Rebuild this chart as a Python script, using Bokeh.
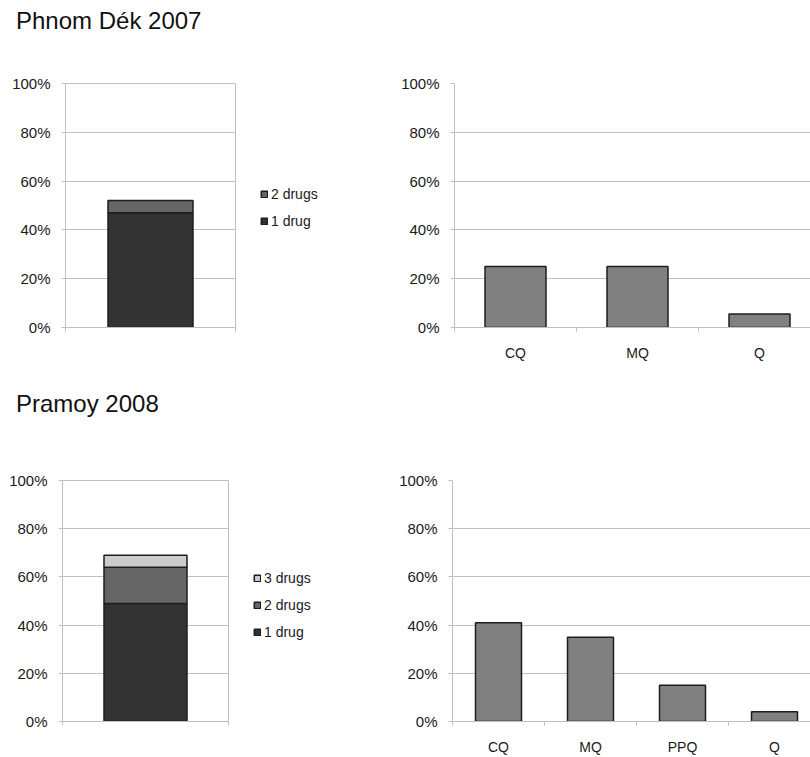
from bokeh.plotting import figure
from bokeh.models import (Range1d, FixedTicker, PrintfTickFormatter, Legend,
                          LegendItem, ColumnDataSource, Div)
from bokeh.layouts import column, row
from bokeh.embed import file_html
from bokeh.resources import INLINE

# ---------------- data ----------------
site1 = "Phnom Dék 2007"
combo_labels1 = ["1 drug", "2 drugs"]
combo_values1 = [47, 5]
drugs1 = ["CQ", "MQ", "Q"]
drug_values1 = [25, 25, 5.5]

site2 = "Pramoy 2008"
combo_labels2 = ["1 drug", "2 drugs", "3 drugs"]
combo_values2 = [49, 15, 5]
drugs2 = ["CQ", "MQ", "PPQ", "Q"]
drug_values2 = [41, 35, 15, 4]

y_ticks = [0, 20, 40, 60, 80, 100]

# ---------------- style ----------------
FONT = "Liberation Sans"
TEXT = "#1a1a1a"
GRID = "#c0c0c0"
OUTLINE = "#1e1e1e"
BAR = "#808080"
STACK_COLORS = ["#333333", "#666666", "#cccccc"]


def base_fig(width, height, left, right, top, bottom, xend, outline):
    p = figure(width=width, height=height, title=None,
               min_border_left=left, min_border_right=right,
               min_border_top=top, min_border_bottom=bottom,
               x_range=Range1d(0, xend), y_range=Range1d(0, 100),
               output_backend="svg", toolbar_location=None, tools="")
    p.xgrid.visible = False
    p.ygrid.grid_line_color = GRID
    p.ygrid.grid_line_width = 1
    p.yaxis.ticker = FixedTicker(ticks=y_ticks)
    p.yaxis.formatter = PrintfTickFormatter(format="%d%%")
    p.yaxis.axis_line_color = GRID
    p.yaxis.major_tick_line_color = GRID
    p.yaxis.major_tick_out = 4
    p.yaxis.major_tick_in = 0
    p.yaxis.minor_tick_line_color = None
    p.yaxis.major_label_standoff = 11
    p.yaxis.major_label_text_font = FONT
    p.yaxis.major_label_text_font_size = "15px"
    p.yaxis.major_label_text_color = TEXT
    p.xaxis.axis_line_color = GRID
    p.xaxis.major_tick_line_color = None
    p.xaxis.major_tick_out = 0
    p.xaxis.major_tick_in = 0
    p.xaxis.minor_tick_line_color = GRID
    p.xaxis.minor_tick_out = 4
    p.xaxis.minor_tick_in = 0
    p.xaxis.major_label_text_font = FONT
    p.xaxis.major_label_text_font_size = "14px"
    p.xaxis.major_label_text_color = TEXT
    p.outline_line_color = GRID if outline else None
    return p


def stack_bars(p, labels, values):
    data = {"x": [0.5]}
    for lab, v in zip(labels, values):
        data[lab] = [v]
    src = ColumnDataSource(data)
    return p.vbar_stack(labels, x="x", width=0.5, source=src,
                        color=STACK_COLORS[:len(labels)],
                        line_color=OUTLINE, line_width=1.5)


def stacked_fig(labels, values, width, height, left, right, top, bottom):
    p = base_fig(width, height, left, right, top, bottom, 1, True)
    p.xaxis.ticker = FixedTicker(ticks=[], minor_ticks=[0, 1])
    stack_bars(p, labels, values)
    return p


def legend_fig(labels, values, width, height, legend_x, legend_y):
    # a bare panel holding the legend; its own bars are hidden
    p = figure(width=width, height=height, title=None,
               x_axis_type=None, y_axis_type=None,
               min_border=0, x_range=Range1d(0, 1), y_range=Range1d(0, 100),
               output_backend="svg", toolbar_location=None, tools="")
    p.outline_line_color = None
    rs = stack_bars(p, labels, values)
    for r in rs:
        r.visible = False
    items = [LegendItem(label=lab, renderers=[r]) for lab, r in zip(labels, rs)]
    items.reverse()
    legend = Legend(items=items, location=(legend_x, legend_y))
    legend.margin = 0
    legend.padding = 0
    legend.spacing = 7
    legend.label_height = 20
    legend.glyph_width = 8
    legend.glyph_height = 8
    legend.label_standoff = 3
    legend.label_text_font = FONT
    legend.label_text_font_size = "14px"
    legend.label_text_color = TEXT
    legend.border_line_color = None
    legend.background_fill_alpha = 0
    legend.inactive_fill_alpha = 0
    legend.click_policy = "none"
    p.add_layout(legend, "center")
    return p


def drug_fig(names, values, width, height, left, right, top, bottom, xend, standoff):
    p = base_fig(width, height, left, right, top, bottom, xend, False)
    n = len(names)
    centers = [i + 0.5 for i in range(n)]
    p.xaxis.ticker = FixedTicker(ticks=centers, minor_ticks=list(range(n + 1)))
    p.xaxis.major_label_overrides = {c: nm for c, nm in zip(centers, names)}
    p.xaxis.major_label_standoff = standoff
    src = ColumnDataSource({"x": centers, "v": values})
    p.vbar(x="x", top="v", width=0.5, source=src, fill_color=BAR,
           line_color=OUTLINE, line_width=1.5)
    return p


def title_div(text, height, pad_top):
    return Div(text=('<div style="font-family:\'%s\';font-size:24px;line-height:24px;'
                     'color:#111;padding-top:%dpx;padding-left:16px;white-space:nowrap">%s</div>'
                     % (FONT, pad_top, text)),
               width=810, height=height, margin=0)


# top row: y 60..385
pA = stacked_fig(combo_labels1, combo_values1, 240, 325, 65, 5, 23, 57)
pLA = legend_fig(combo_labels1, combo_values1, 150, 325, 20, 96)
pB = drug_fig(drugs1, drug_values1, 420, 325, 64, 0, 23, 58, 3 * 356 / 366, 13)

# bottom row: y 460..757
pC = stacked_fig(combo_labels2, combo_values2, 240, 297, 62, 12, 17, 29)
pLC = legend_fig(combo_labels2, combo_values2, 150, 297, 13, 79)
pD = drug_fig(drugs2, drug_values2, 420, 297, 62, 0, 20, 33, 4 * 358 / 368, 13)

layout = column(
    title_div(site1, 60, 9),
    row(pA, pLA, pB),
    title_div(site2, 75, 7),
    row(pC, pLC, pD),
)

with open("out.html", "w", encoding="utf-8") as f:
    f.write(file_html(layout, INLINE))
